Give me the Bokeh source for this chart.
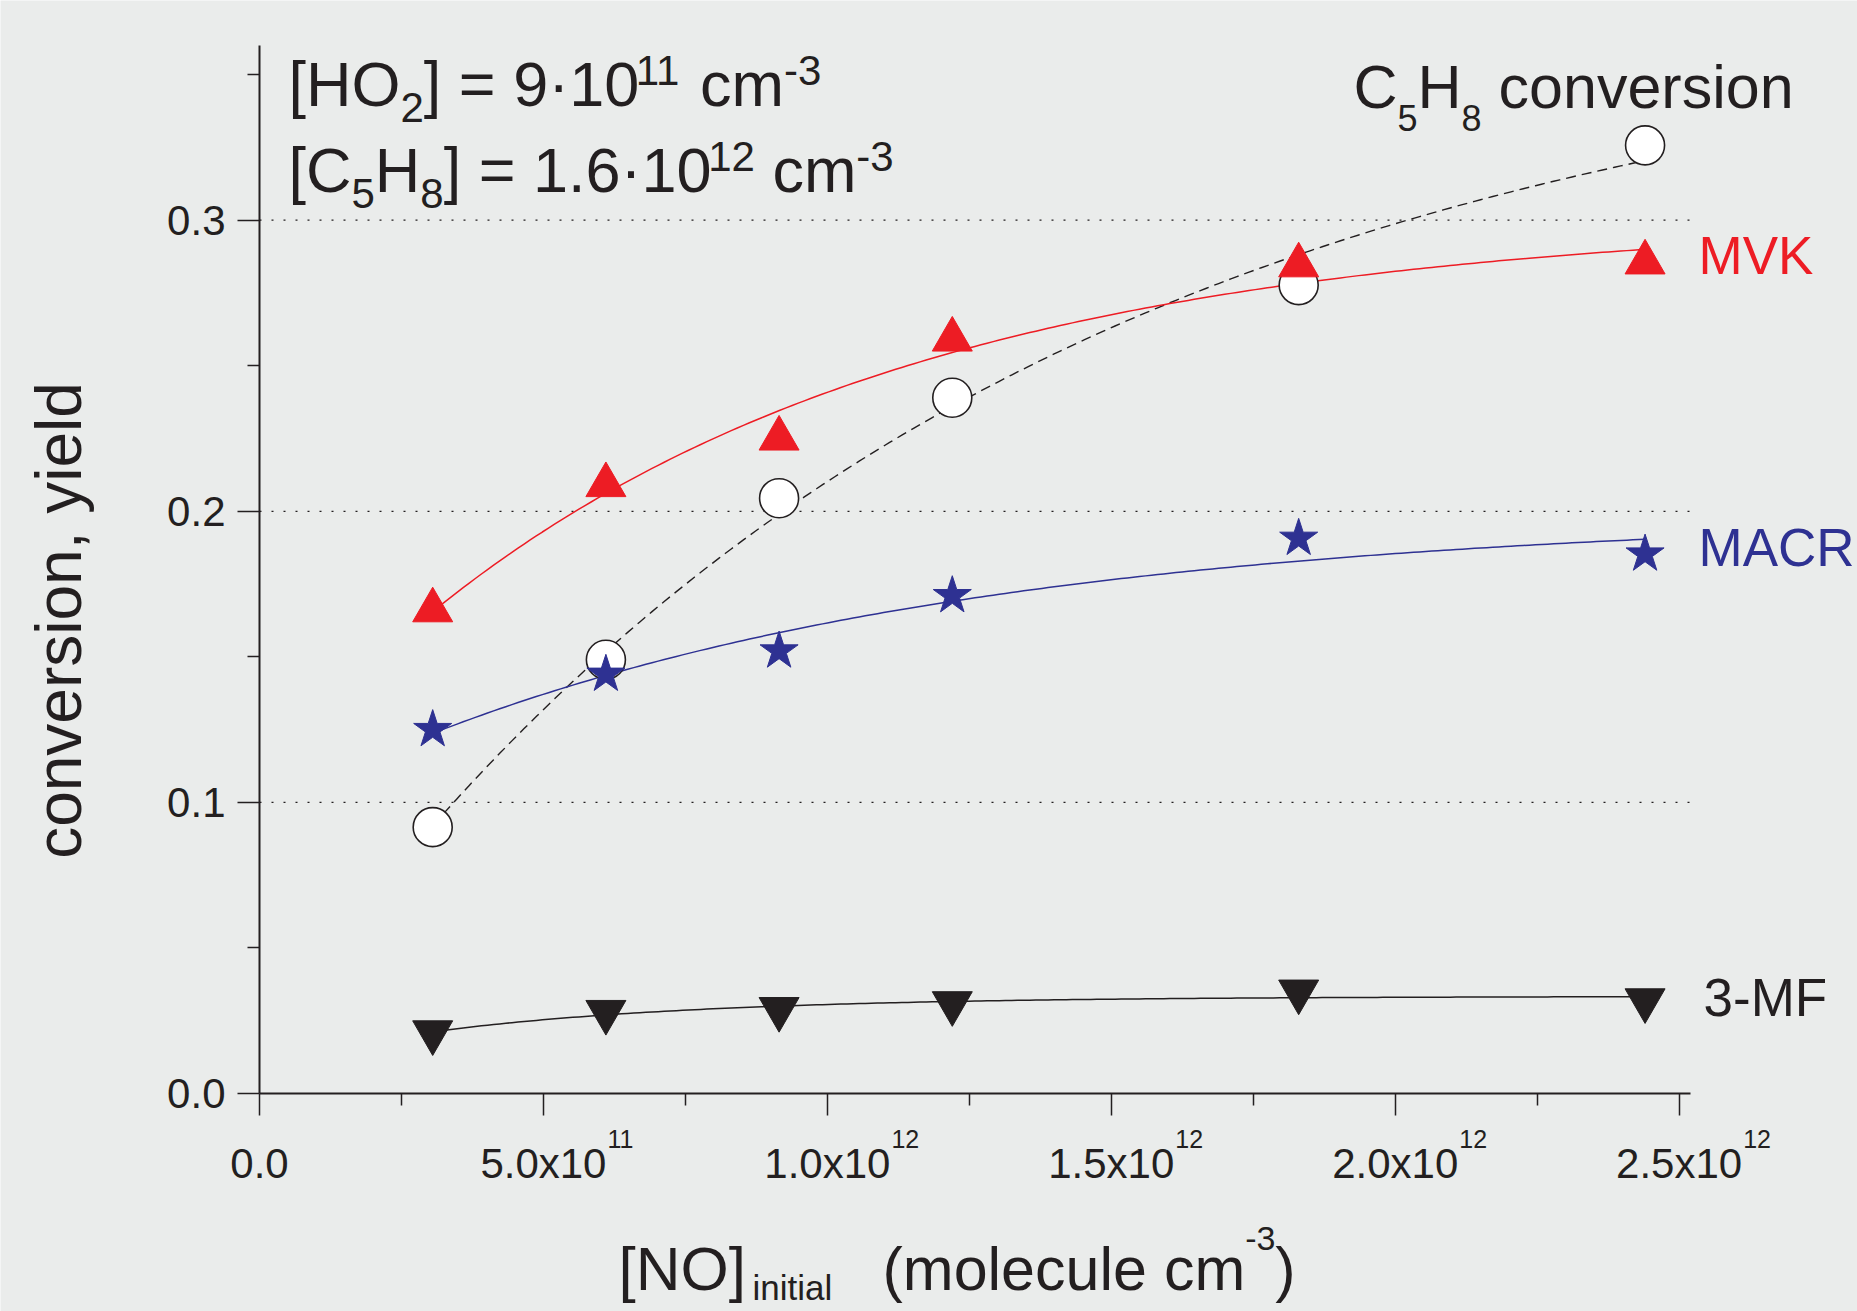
import numpy as np
from bokeh.plotting import figure
from bokeh.models import (Range1d, FixedTicker, Label, PrintfTickFormatter,
                          CustomJSTickFormatter)
from bokeh.embed import file_html
from bokeh.resources import INLINE

# ---------------- data ----------------
no_initial = [3.05e11, 6.10e11, 9.15e11, 1.22e12, 1.83e12, 2.44e12]
c5h8_conversion = [0.0915, 0.149, 0.2045, 0.239, 0.2777, 0.3257]
mvk_yield = [0.166, 0.209, 0.225, 0.259, 0.2845, 0.2855]
macr_yield = [0.125, 0.144, 0.152, 0.171, 0.1907, 0.1853]
mf3_yield = [0.021, 0.028, 0.029, 0.031, 0.035, 0.032]

x_major_ticks = [0.0, 5e11, 1e12, 1.5e12, 2e12, 2.5e12]
x_minor_ticks = [2.5e11, 7.5e11, 1.25e12, 1.75e12, 2.25e12]
x_tick_mantissa = ["0.0", "5.0x10", "1.0x10", "1.5x10", "2.0x10", "2.5x10"]
x_tick_exponent = ["", "11", "12", "12", "12", "12"]
y_major_ticks = [0.0, 0.1, 0.2, 0.3]
y_minor_ticks = [0.05, 0.15, 0.25, 0.35]

RED = "#ED1C24"
BLUE = "#2E3192"
BLACK = "#231F20"
BG = "#eaeceb"
FONT = "Liberation Sans"

X_END, Y_END = 2.52e12, 0.36          # extent of the drawn axes
W, H = 1857, 1311                      # canvas
AX_L, AX_B = 259, 1093                 # canvas px of the data origin
PXX = 1431 / X_END                     # px per x unit
PYY = 1048 / Y_END                     # px per y unit

XS, XE = -AX_L / PXX, (W - AX_L) / PXX
YS, YE = -(H - AX_B) / PYY, AX_B / PYY

BASE_SHIFT = 0.375   # label baseline correction, in em


def dx(px):   # canvas px -> data x
    return (px - AX_L) / PXX


def dy(py):   # canvas px -> data y
    return (AX_B - py) / PYY


ARIAL = {'[': 278, ']': 278, 'H': 722, 'O': 778, 'C': 722, 'N': 722, '=': 584, ' ': 278,
         '·': 278, '.': 278, 'c': 500, 'm': 833, '-': 333, 'o': 556, 'n': 556, 'v': 500,
         'e': 556, 'r': 333, 's': 500, 'i': 222, 'l': 222, 'u': 556, '(': 333, ')': 333,
         'x': 500, 't': 278, 'a': 556, 'M': 833, 'V': 667, 'K': 667, 'A': 667, 'R': 722, 'F': 611}


def tw(s, size):
    return sum(ARIAL.get(ch, 556) for ch in s) * size / 1000.0


def rise_fit(x, y, n=200):
    x = np.asarray(x, float)
    y = np.asarray(y, float)
    best = None
    for c in np.linspace(1e11, 6e12, 600):
        A = np.column_stack([np.ones_like(x), -np.exp(-x / c)])
        coef, *_ = np.linalg.lstsq(A, y, rcond=None)
        r = float(np.sum((A @ coef - y) ** 2))
        if best is None or r < best[0]:
            best = (r, c, coef)
    _, c, (a, b) = best
    xs = np.linspace(x.min(), x.max(), n)
    return xs, a - b * np.exp(-xs / c)


p = figure(width=W, height=H, output_backend="svg", toolbar_location=None,
           x_range=Range1d(XS, XE), y_range=Range1d(YS, YE), min_border=0)
p.background_fill_color = BG
p.border_fill_color = BG
p.outline_line_color = None

p.xaxis.fixed_location = 0
p.yaxis.fixed_location = 0
p.xaxis.bounds = (0, X_END)
p.yaxis.bounds = (0, Y_END)

for ax in (p.xaxis[0], p.yaxis[0]):
    ax.axis_line_width = 2
    ax.axis_line_color = BLACK
    ax.major_tick_line_color = BLACK
    ax.minor_tick_line_color = BLACK
    ax.major_tick_line_width = 1.5
    ax.minor_tick_line_width = 1.5
    ax.major_tick_in = 0
    ax.major_tick_out = 22
    ax.minor_tick_in = 0
    ax.minor_tick_out = 12
    ax.major_label_text_font = FONT
    ax.major_label_text_font_size = "42px"
    ax.major_label_text_color = BLACK

p.xaxis.ticker = FixedTicker(ticks=x_major_ticks, minor_ticks=x_minor_ticks)
p.xaxis.formatter = CustomJSTickFormatter(
    args=dict(tick_values=x_major_ticks, tick_texts=x_tick_mantissa),
    code="""
let k = -1;
for (let j = 0; j < tick_values.length; j++) {
  if (Math.abs(tick_values[j] - tick) < 1) { k = j; }
}
return k >= 0 ? tick_texts[k] : "";
""")
p.xaxis.major_label_standoff = 24
p.yaxis.ticker = FixedTicker(ticks=y_major_ticks, minor_ticks=y_minor_ticks)
p.yaxis.formatter = PrintfTickFormatter(format="%.1f")
p.yaxis.major_label_standoff = 12

# dotted horizontal grid, only across the axis extent and above zero
p.xgrid.visible = False
p.ygrid.visible = False
grid_y = [t for t in y_major_ticks if t > 0]
p.segment(x0=[0.0] * len(grid_y), y0=grid_y, x1=[X_END] * len(grid_y), y1=grid_y,
          line_color=BLACK, line_width=1.2, line_dash="2 10")

# fit curves
xs, ys = rise_fit(no_initial, c5h8_conversion)
p.line(xs, ys, line_color=BLACK, line_width=1.4, line_dash="10 6")
xs, ys = rise_fit(no_initial, mvk_yield)
p.line(xs, ys, line_color=RED, line_width=1.5)
xs, ys = rise_fit(no_initial, macr_yield)
p.line(xs, ys, line_color=BLUE, line_width=1.5)
xs, ys = rise_fit(no_initial, mf3_yield)
p.line(xs, ys, line_color=BLACK, line_width=1.5)

# markers
p.scatter(no_initial, c5h8_conversion, marker="circle", size=39, fill_color="white",
          line_color=BLACK, line_width=1.6)
p.scatter(no_initial, macr_yield, marker="star", size=40, fill_color=BLUE, line_color=BLUE)
p.scatter(no_initial, mvk_yield, marker="triangle", size=40, fill_color=RED, line_color=RED)
p.scatter(no_initial, mf3_yield, marker="inverted_triangle", size=40, fill_color=BLACK,
          line_color=BLACK)


def put(text, px, py, size, color=BLACK, align="left", angle=0.0):
    if angle:
        px = px - BASE_SHIFT * size
    else:
        py = py - BASE_SHIFT * size
    p.add_layout(Label(x=dx(px), y=dy(py), text=text, text_font=FONT,
                       text_font_size=f"{size}px", text_color=color, text_align=align,
                       text_baseline="alphabetic", angle=angle))


def rich(px, py, parts, color=BLACK):
    x = px
    for text, size, shift in parts:
        stripped = text.lstrip(" ")
        x += tw(text[:len(text) - len(stripped)], size)
        put(stripped, x, py + shift, size, color)
        x += tw(stripped, size)


# exponents of the x tick labels (mantissas are the axis' own labels)
for t, man, ex in zip(x_major_ticks, x_tick_mantissa, x_tick_exponent):
    if ex:
        right = AX_L + t * PXX + tw(man, 42) / 2
        put(ex, right + 1, 1148, 25)

# axis titles
put("conversion, yield", 82, 620, 64, angle=np.pi / 2, align="center")
put("[NO]", 618, 1291, 62)
put("initial", 752, 1300, 35)
rich(882, 1291, [("(molecule cm", 61, 0), ("-3", 34, -40), (")", 61, 0)])

# annotations
rich(288, 107, [("[HO", 63, 0), ("2", 42, 16), ("] = 9·10", 63, 0), ("11", 42, -21),
                (" cm", 63, 0), ("-3", 42, -21)])
rich(288, 193, [("[C", 63, 0), ("5", 42, 16), ("H", 63, 0), ("8", 42, 16),
                ("] = 1.6·10", 63, 0), ("12", 42, -21), (" cm", 63, 0), ("-3", 42, -21)])
rich(1353, 109, [("C", 61, 0), ("5", 36, 22), ("H", 61, 0), ("8", 36, 22),
                 (" conversion", 61, 0)])
put("MVK", 1698, 275, 53, RED)
put("MACR", 1698, 567, 53, BLUE)
put("3-MF", 1703, 1017, 53, BLACK)

open("out.html", "w").write(file_html(p, INLINE))
